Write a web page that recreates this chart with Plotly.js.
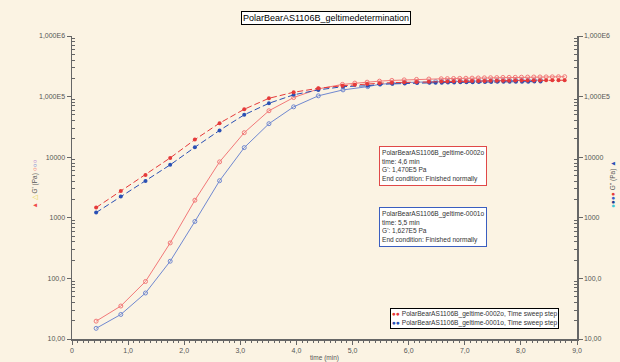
<!DOCTYPE html>
<html>
<head>
<meta charset="utf-8">
<script src="https://cdn.plot.ly/plotly-3.0.1.min.js"></script>
<style>html,body{margin:0;padding:0;background:#fbf3e3;}#chart{width:620px;height:362px;}</style>
</head>
<body>
<div id="chart"></div>
<script>
// Sample 0002o (red)
const timeRed = [0.43,0.87,1.31,1.75,2.19,2.63,3.07,3.51,3.95,4.39,4.82,5.04,5.26,5.48,5.70,5.92,6.14,6.36,6.58,6.69,6.80,6.91,7.02,7.13,7.24,7.35,7.46,7.57,7.68,7.79,7.90,8.01,8.12,8.23,8.34,8.45,8.56,8.67,8.78];
const gPrimeRed = [19.7,35,89,385,1950,8370,25400,58400,96400,134000,159000,167000,173000,180000,185000,189000,192000,195000,197000,198000,199000,200000,201000,202000,203000,204000,205000,206000,207000,207500,208000,209000,210000,210500,211000,211500,212000,212500,213000];
const gDoubleRed = [1475,2770,5070,9740,19500,36500,61900,93800,118000,137000,151000,157000,162000,166000,170000,172000,174000,176000,177000,178000,178500,179000,180000,180500,181000,181500,182000,182500,183000,183000,183500,184000,184500,185000,185000,185500,186000,186000,186500];
// Sample 0001o (blue)
const timeBlue = [0.43,0.87,1.31,1.75,2.19,2.63,3.07,3.51,3.95,4.39,4.83,5.27,5.49,5.71,5.93,6.15,6.37,6.48,6.59,6.70,6.81,6.92,7.03,7.14,7.25,7.36,7.47,7.58,7.69,7.80,7.91,8.02,8.13,8.24,8.35];
const gPrimeBlue = [15,25.4,57.4,192,870,4090,14400,35700,67800,103000,129000,146000,160000,166000,170000,173000,175000,176500,177500,178500,179500,180000,181000,181500,182000,182500,183000,183500,184000,184500,185000,185500,186000,186000,186500];
const gDoubleBlue = [1220,2240,4040,7480,14600,27700,50100,77600,107000,129000,146000,151000,160000,163000,165000,167000,168500,169500,170000,171000,171500,172000,172500,173000,173500,174000,174500,175000,175000,175500,176000,176000,176500,177000,177000];

const xTickVals = [0,1,2,3,4,5,6,7,8,9];
const xTickText = ['0','1,0','2,0','3,0','4,0','5,0','6,0','7,0','8,0','9,0'];
const yTickVals = [10,100,1000,10000,100000,1000000];
const yTickText = ['10,00','100,0','1000','10000','1,000E5','1,000E6'];

const minorY = [];
for (let d = 10; d < 1000000; d *= 10) for (let k = 2; k <= 9; k++) minorY.push(d*k);

const FONT = 'Liberation Sans, Arial, sans-serif';
const AX = '#666666';

const traces = [
  {x: timeBlue, y: gDoubleBlue, yaxis: 'y2', mode: 'lines+markers', line: {color: '#2a50b4', width: 1, dash: '6px,3px'}, marker: {symbol: 'circle', size: 4, color: '#2a50b4'}},
  {x: timeBlue, y: gPrimeBlue, mode: 'lines+markers', line: {color: '#7088d0', width: 1}, marker: {symbol: 'circle-open', size: 4, color: '#7088d0', line: {width: 1}}},
  {x: timeRed, y: gDoubleRed, yaxis: 'y2', mode: 'lines+markers', line: {color: '#e53a3a', width: 1, dash: '6px,3px'}, marker: {symbol: 'circle', size: 4, color: '#e53a3a'}},
  {x: timeRed, y: gPrimeRed, mode: 'lines+markers', line: {color: '#f27878', width: 1}, marker: {symbol: 'circle-open', size: 4, color: '#f27878', line: {width: 1}}}
];

const yCommon = {
  type: 'log', range: [1, 6], tickmode: 'array', tickvals: yTickVals, ticktext: yTickText,
  ticks: 'outside', ticklen: 4, tickcolor: AX, showline: true, linecolor: AX, linewidth: 1.5,
  showgrid: false, zeroline: false, tickfont: {family: FONT, size: 7, color: '#555'},
  minor: {tickmode: 'array', tickvals: minorY, ticks: 'inside', ticklen: 3, tickcolor: AX, showgrid: false}
};

const layout = {
  width: 620, height: 362, autosize: false,
  margin: {l: 72, r: 43, t: 36, b: 23, pad: 0},
  paper_bgcolor: '#fbf3e3', plot_bgcolor: '#fbf3e3',
  showlegend: false,
  font: {family: FONT, size: 7, color: '#555'},
  xaxis: {
    range: [0, 9], tickmode: 'array', tickvals: xTickVals, ticktext: xTickText,
    ticks: 'outside', ticklen: 4, tickcolor: AX, showline: true, linecolor: AX, linewidth: 1.5,
    showgrid: false, zeroline: false, tickfont: {family: FONT, size: 7, color: '#555'},
    minor: {dtick: 0.1, ticks: 'outside', ticklen: 2, tickcolor: AX, showgrid: false},
    title: {text: 'time (min)', font: {family: FONT, size: 6.5, color: '#555'}, standoff: 2}
  },
  yaxis: Object.assign({}, yCommon),
  yaxis2: Object.assign({}, yCommon, {overlaying: 'y', side: 'right'}),
  annotations: [
    {xref: 'paper', yref: 'paper', x: 0.503, y: 1.061, xanchor: 'center', yanchor: 'middle', showarrow: false,
     text: 'PolarBearAS1106B_geltimedetermination', font: {family: FONT, size: 9, color: '#000'},
     bgcolor: '#ffffff', bordercolor: '#000', borderwidth: 1, borderpad: 1},
    {xref: 'paper', yref: 'paper', x: -0.073, y: 0.51, xanchor: 'center', yanchor: 'middle', showarrow: false, textangle: -90,
     text: '<span style="color:#f04848">▲</span> <span style="color:#e6d23c">△</span> G\' (Pa) <span style="color:#f04848">○</span><span style="color:#4a66d0">○</span><span style="color:#a05ad0">○</span>',
     font: {family: FONT, size: 6.5, color: '#555'}},
    {xref: 'paper', yref: 'paper', x: 1.072, y: 0.51, xanchor: 'center', yanchor: 'middle', showarrow: false, textangle: -90,
     text: '<span style="color:#40c8d8">●</span><span style="color:#1a3a90">●</span><span style="color:#3a60c8">●</span><span style="color:#e53a3a">●</span> G\'\' (Pa) <span style="color:#2a50b4">▲</span>',
     font: {family: FONT, size: 6.5, color: '#555'}},
    {xref: 'paper', yref: 'paper', x: 0.715, y: 0.571, xanchor: 'center', yanchor: 'middle', showarrow: false, align: 'left',
     text: 'PolarBearAS1106B_geltime-0002o<br>time: 4,6 min<br>G\': 1,470E5 Pa<br>End condition: Finished normally',
     font: {family: FONT, size: 6.6, color: '#333'}, bgcolor: '#ffffff', bordercolor: '#e04848', borderwidth: 1, borderpad: 2},
    {xref: 'paper', yref: 'paper', x: 0.714, y: 0.37, xanchor: 'center', yanchor: 'middle', showarrow: false, align: 'left',
     text: 'PolarBearAS1106B_geltime-0001o<br>time: 5,5 min<br>G\': 1,627E5 Pa<br>End condition: Finished normally',
     font: {family: FONT, size: 6.6, color: '#333'}, bgcolor: '#ffffff', bordercolor: '#3a5ec0', borderwidth: 1, borderpad: 2},
    {xref: 'paper', yref: 'paper', x: 0.797, y: 0.069, xanchor: 'center', yanchor: 'middle', showarrow: false, align: 'left',
     text: '<span style="color:#e53a3a">●●</span> PolarBearAS1106B_geltime-0002o, Time sweep step<br><span style="color:#2a50b4">●●</span> PolarBearAS1106B_geltime-0001o, Time sweep step',
     font: {family: FONT, size: 6.6, color: '#333'}, bgcolor: '#ffffff', bordercolor: '#000', borderwidth: 1, borderpad: 1}
  ]
};

Plotly.newPlot('chart', traces, layout, {staticPlot: true, displayModeBar: false});
</script>
</body>
</html>
